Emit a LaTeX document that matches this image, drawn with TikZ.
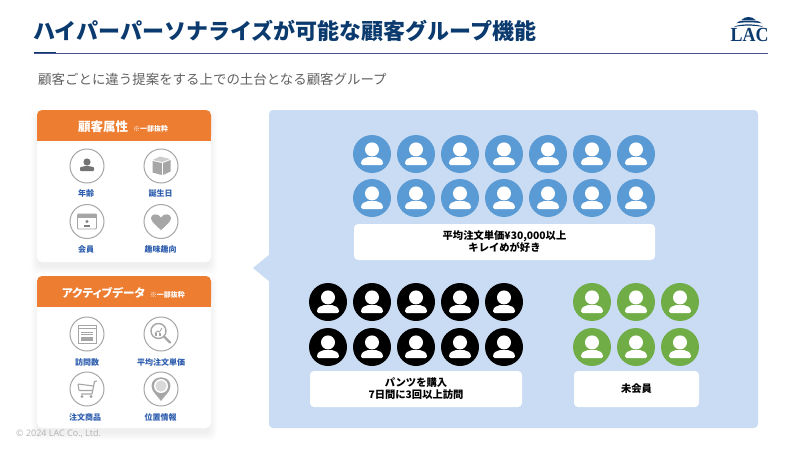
\documentclass[tikz,border=0pt]{standalone}
\usepackage{fontspec}
\setmainfont{Noto Sans CJK JP}
\newfontfamily\logofont{Liberation Serif}
\newfontfamily\copyfont{Open Sans}
\usepackage{tikz}
\newcommand{\fsz}[2]{\fontsize{#1}{#2}\selectfont}
\definecolor{lacnavy}{HTML}{0B3A6E}
\definecolor{lacline}{HTML}{4A4F92}
\definecolor{lacpanel}{HTML}{C9DCF4}
\definecolor{lacorange}{HTML}{ED7D31}
\definecolor{lacblue}{HTML}{5B9BD5}
\definecolor{lacgreen}{HTML}{70AD47}
\definecolor{laclabel}{HTML}{2F5FAE}
\definecolor{icongray}{HTML}{A6A6A6}
\tikzset{
	persondot/.style={circle,minimum size=38pt,inner sep=0pt},
	pics/persona/.style={code={
		\fill [white] (0,-4.6) circle [radius=7];
		\fill [white] (-11,9.5) .. controls (-11,5.5) and (-7.5,3.6) .. (-4.5,3.2) -- (4.5,3.2) .. controls (7.5,3.6) and (11,5.5) .. (11,9.5) .. controls (11,10.5) and (10.5,11) .. (9.5,11) -- (-9.5,11) .. controls (-10.5,11) and (-11,10.5) .. (-11,9.5) -- cycle;
	}},
	whitebox/.style={fill=white,rounded corners=4pt,inner sep=0pt,align=center,font=\fsz{10.3}{12}\bfseries},
	iconring/.style={circle,draw=icongray,line width=1pt,fill=white,minimum size=34pt,inner sep=0pt},
	iconlabel/.style={text=laclabel,font=\fsz{8}{10}\bfseries,inner sep=0pt},
	cardhead/.style={text=white,inner sep=0pt},
}
\begin{document}
\begin{tikzpicture}[x=1pt,y=-1pt]
	\useasboundingbox [fill=white] (0,0) rectangle (800,450);
	% title
	\node [anchor=west,inner sep=0pt,text=lacnavy,font=\fsz{22}{26}\bfseries] (title) at (33,31) {ハイパーパーソナライズが可能な顧客グループ機能};
	\draw [lacline,semithick] (34,53) -- (768,53);
	\draw [lacnavy,line width=1.5pt] (34,52.5) -- (56,52.5);
	\node [anchor=west,inner sep=0pt,text=black!62,font=\fsz{13.45}{16}] (subtitle) at (38,79) {顧客ごとに違う提案をする上での土台となる顧客グループ};
	% logo
	\fill [lacnavy] (741.5,20) .. controls (745,16) and (752,16) .. (755.5,20) -- cycle;
	\fill [lacnavy] (736.5,23.3) .. controls (739,20.5) and (742,20.5) .. (748.5,20.5) .. controls (755,20.5) and (759,20.5) .. (761.5,23.3) .. controls (755,22) and (742,22) .. (736.5,23.3) -- cycle;
	\fill [lacnavy] (734,27) .. controls (738,23.5) and (759,23.5) .. (763,27) .. controls (755,25.2) and (742,25.2) .. (734,27) -- cycle;
	\node [inner sep=0pt,text=lacnavy,xscale=0.9,font=\logofont\fsz{20}{20}\bfseries] (logo) at (749.5,35) {LAC};
	% cards
	\foreach \y in {110,276} {
		\foreach \k in {1,...,8}
			\fill [black,opacity=0.009,rounded corners=6pt] (39-\k,\y+8-\k) rectangle (209+\k,\y+156+\k);
		\fill [white,rounded corners=5pt] (37,\y) rectangle (211,\y+152);
		\fill [lacorange,rounded corners=5pt] (37,\y+30) -- (37,\y) -- (211,\y) -- (211,\y+30) -- cycle;
		\fill [lacorange] (37,\y+25) rectangle (211,\y+30.5);
	}
	\node [cardhead] (headattr) at (123,127) {\fsz{12.5}{15}\bfseries 顧客属性\hspace{5pt}\fsz{7}{9}※一部抜粋};
	\node [cardhead] (headdata) at (123.5,293) {\fsz{11.5}{15}\bfseries\addfontfeature{RawFeature=+palt}アクティブデータ\hspace{5pt}\fsz{7}{9}※一部抜粋};
	% icon rings
	\node [iconring] (age) at (87,166) {};
	\node [iconring] (birth) at (161,166) {};
	\node [iconring] (member) at (87,221.5) {};
	\node [iconring] (hobby) at (161,221.5) {};
	\node [iconring] (visit) at (87,334) {};
	\node [iconring] (price) at (161,334) {};
	\node [iconring] (item) at (87,389) {};
	\node [iconring] (place) at (161,389) {};
	\node [iconlabel] (agelabel) at (86,193) {年齢};
	\node [iconlabel] (birthlabel) at (160.5,193) {誕生日};
	\node [iconlabel] (memberlabel) at (86,249) {会員};
	\node [iconlabel] (hobbylabel) at (160.5,249) {趣味趣向};
	\node [iconlabel] (visitlabel) at (87,362) {訪問数};
	\node [iconlabel] (pricelabel) at (161,362) {平均注文単価};
	\node [iconlabel] (itemlabel) at (85,417) {注文商品};
	\node [iconlabel] (placelabel) at (160.5,417) {位置情報};
	% icon glyphs
	\begin{scope}[shift={(age)}]
		\fill [black!55] (0,-4) circle [radius=3.6];
		\fill [black!55,rounded corners=1pt] (-7,5) -- (-7,3) .. controls (-7,1) and (-3,0) .. (0,0) .. controls (3,0) and (7,1) .. (7,3) -- (7,5) -- cycle;
	\end{scope}
	\begin{scope}[shift={(birth)}]
		\fill [icongray] (-8.5,-5) -- (0.8,-3) -- (0.8,9) -- (-8.5,6.5) -- cycle;
		\fill [icongray] (2,-3) -- (9.5,-6) -- (9.5,5.5) -- (2,9) -- cycle;
		\fill [black!20] (-8.5,-6) -- (-1,-9.5) -- (9,-7) -- (1.5,-4) -- cycle;
	\end{scope}
	\begin{scope}[shift={(member)}]
		\draw [icongray,line width=0.9pt,rounded corners=1pt] (-9.5,-7.5) rectangle (9.5,7.5);
		\fill [icongray] (-9.5,-7.5) rectangle (9.5,-4);
		\fill [black!50] (0,0) circle [radius=1.6];
		\fill [black!50] (-3,5) rectangle (3,3);
	\end{scope}
	\begin{scope}[shift={(hobby)}]
		\fill [icongray] (0,8.5) .. controls (-5,4) and (-10,0) .. (-10,-3.5) .. controls (-10,-7.5) and (-3,-9) .. (0,-4) .. controls (3,-9) and (10,-7.5) .. (10,-3.5) .. controls (10,0) and (5,4) .. (0,8.5) -- cycle;
	\end{scope}
	\begin{scope}[shift={(visit)}]
		\draw [icongray,line width=1pt] (-9,-9) rectangle (9,9);
		\draw [icongray,line width=0.8pt] (-9,-5.5) -- (9,-5.5);
		\draw [icongray,line width=0.8pt] (-6,-2) -- (6,-2) (-6,0.5) -- (6,0.5);
		\fill [icongray] (-6,2.5) rectangle (6,7);
	\end{scope}
	\begin{scope}[shift={(price)}]
		\draw [icongray,line width=1.4pt] (-2.5,-3) circle [radius=7.5];
		\draw [icongray,line width=2.2pt,line cap=round] (3.2,2.7) -- (9,8.5);
		\draw [icongray,line width=0.9pt] (-6,-0.5) -- (-3.5,-3) -- (-1.5,-2) -- (1,-6);
		\fill [icongray] (-6.5,-1) rectangle (-4.5,1.5);
		\fill [icongray] (-2.5,-1) rectangle (-0.5,1.5);
	\end{scope}
	\begin{scope}[shift={(item)}]
		\draw [icongray,line width=1.1pt,line join=round] (10,-8) -- (7.5,-7.5) -- (5,5) -- (-6,5);
		\draw [icongray,line width=1.1pt,line join=round] (-9,-5) -- (6.5,-3) (-8,1.5) -- (5.5,1.5) (-9,-5) -- (-8,1.5);
		\fill [icongray] (-5,7.5) circle [radius=1.6];
		\fill [icongray] (4,7.5) circle [radius=1.6];
	\end{scope}
	\begin{scope}[shift={(place)}]
		\fill [icongray] (0,12) .. controls (-3,7) and (-9.5,3) .. (-9.5,-3) .. controls (-9.5,-14.5) and (9.5,-14.5) .. (9.5,-3) .. controls (9.5,3) and (3,7) .. (0,12) -- cycle;
		\fill [white] (0,-3) circle [radius=7];
		\fill [black!15] (0,-3) circle [radius=5.6];
	\end{scope}
	% panel with pointer
	\fill [lacpanel,rounded corners=4pt] (269,110) rectangle (758,428);
	\fill [lacpanel] (270,254) -- (253,268) -- (270,282) -- cycle;
	% people
	\foreach \x in {372,416,...,636}
		\foreach \y in {154,198} {
			\node [persondot,fill=lacblue] (blue\x-\y) at (\x,\y) {};
			\pic at (blue\x-\y) {persona};
		}
	\foreach \x in {328,372,...,504}
		\foreach \y in {302,347} {
			\node [persondot,fill=black] (dark\x-\y) at (\x,\y) {};
			\pic at (dark\x-\y) {persona};
		}
	\foreach \x in {592,636,680}
		\foreach \y in {302,347} {
			\node [persondot,fill=lacgreen] (green\x-\y) at (\x,\y) {};
			\pic at (green\x-\y) {persona};
		}
	\node [whitebox,minimum width=301pt,minimum height=36pt] (bluebox) at (504.5,242) {平均注文単価¥30,000以上\\キレイめが好き};
	\node [whitebox,minimum width=212pt,minimum height=36pt] (darkbox) at (416,389) {パンツを購入\\7日間に3回以上訪問};
	\node [whitebox,minimum width=125pt,minimum height=36pt] (greenbox) at (636.5,389) {未会員};
	% footer
	\node [anchor=west,inner sep=0pt,text=black!30,font=\copyfont\fsz{9}{11}] (copyright) at (16,434) {© 2024 LAC Co., Ltd.};
\end{tikzpicture}
\end{document}
